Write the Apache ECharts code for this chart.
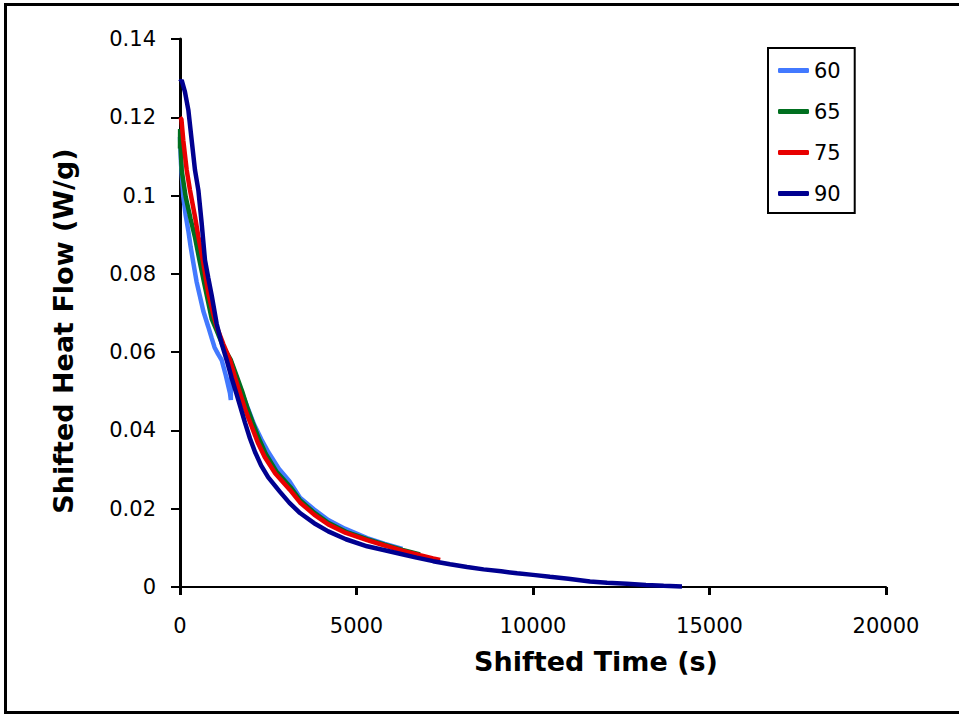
<!DOCTYPE html>
<html>
<head>
<meta charset="utf-8">
<script src="https://cdn.jsdelivr.net/npm/echarts@6/dist/echarts.min.js"></script>
<style>
  html, body { margin: 0; padding: 0; background: #fff; }
  #chart { width: 959px; height: 717px; }
</style>
</head>
<body>
<div id="chart"></div>
<script>
// ---- data ----
const seriesNames = ['60', '65', '75', '90'];

const t60 = [0, 30, 94, 160, 236, 300, 378, 470, 566, 660, 800, 900, 980, 1080, 1180, 1300, 1416, 1440, 1450, 1600, 1780, 1950, 2100, 2300, 2500, 2800, 3100, 3400, 3800, 4200, 4670, 5300, 5800, 6300];
const v60 = [0.115, 0.108, 0.0997, 0.095, 0.091, 0.087, 0.0828, 0.078, 0.0742, 0.0705, 0.0665, 0.0635, 0.0612, 0.0595, 0.058, 0.054, 0.0495, 0.0478, 0.0575, 0.0535, 0.049, 0.045, 0.0415, 0.0378, 0.0345, 0.0302, 0.027, 0.0228, 0.0198, 0.0171, 0.0149, 0.0125, 0.011, 0.0097];

const t65 = [0, 4, 12, 47, 160, 300, 420, 566, 700, 898, 1040, 1230, 1440, 1600, 1760, 1900, 2060, 2230, 2430, 2730, 3150, 3400, 3800, 4200, 4700, 5300, 5800, 6300, 6800];
const v65 = [0.112, 0.117, 0.1135, 0.1065, 0.0997, 0.094, 0.0895, 0.0828, 0.077, 0.0685, 0.0655, 0.0613, 0.058, 0.054, 0.05, 0.046, 0.042, 0.038, 0.034, 0.0295, 0.0253, 0.0222, 0.019, 0.0164, 0.0141, 0.0122, 0.0108, 0.0095, 0.0083];

const t75 = [0, 40, 94, 190, 283, 425, 520, 660, 803, 920, 1040, 1230, 1416, 1560, 1700, 1860, 2030, 2200, 2400, 2700, 3116, 3400, 3800, 4200, 4700, 5300, 5800, 6300, 6800, 7170, 7370];
const v75 = [0.120, 0.1195, 0.114, 0.1065, 0.1014, 0.0946, 0.0895, 0.0828, 0.075, 0.0705, 0.0665, 0.062, 0.058, 0.0535, 0.0495, 0.045, 0.041, 0.037, 0.0332, 0.029, 0.0248, 0.0216, 0.0185, 0.016, 0.0138, 0.012, 0.0106, 0.0093, 0.0081, 0.0073, 0.0069];

const t90 = [0, 47, 140, 236, 330, 425, 520, 613, 708, 800, 898, 1040, 1180, 1322, 1460, 1605, 1720, 1841, 1980, 2125, 2300, 2500, 2833, 3100, 3400, 3800, 4200, 4700, 5300, 5800, 6230, 6700, 7170, 7650, 8130, 8600, 9100, 9550, 10000, 10480, 11000, 11615, 12100, 12660, 13200, 13700, 14220];
const v90 = [0.129, 0.1295, 0.1265, 0.1219, 0.1142, 0.1065, 0.1014, 0.093, 0.0835, 0.079, 0.0745, 0.0672, 0.0622, 0.058, 0.0535, 0.0492, 0.0457, 0.042, 0.038, 0.0345, 0.031, 0.028, 0.0243, 0.0215, 0.0189, 0.0163, 0.0142, 0.0122, 0.0104, 0.0094, 0.0085, 0.0075, 0.0066, 0.0058, 0.0051, 0.0045, 0.0040, 0.0035, 0.0031, 0.0026, 0.0021, 0.0014, 0.0011, 0.0008, 0.0005, 0.0003, 0.0001];

const colors = ['#4279FF', '#006F1F', '#E80000', '#000090'];
const xTitle = 'Shifted Time (s)';
const yTitle = 'Shifted Heat Flow (W/g)';

function pairs(t, v) { return t.map((x, i) => [x, v[i]]); }
const allData = [pairs(t60, v60), pairs(t65, v65), pairs(t75, v75), pairs(t90, v90)];

const chart = echarts.init(document.getElementById('chart'), null, { renderer: 'svg' });
const font = 'DejaVu Sans';

chart.setOption({
  animation: false,
  backgroundColor: '#fff',
  graphic: [{
    type: 'rect',
    shape: { x: 5.5, y: 4.5, width: 1000, height: 708 },
    style: { fill: 'none', stroke: '#000', lineWidth: 3 },
    silent: true
  }],
  grid: { left: 180, top: 39, width: 706, height: 548, containLabel: false },
  legend: {
    orient: 'vertical',
    left: 768, top: 48,
    padding: [12, 14, 9, 10],
    icon: 'roundRect',
    itemWidth: 31, itemHeight: 5, itemGap: 20,
    borderColor: '#000', borderWidth: 2, borderRadius: 0,
    backgroundColor: '#fff',
    textStyle: { fontFamily: font, fontSize: 21, color: '#000', lineHeight: 20 },
    data: seriesNames
  },
  xAxis: {
    type: 'value', min: 0, max: 20000, interval: 5000,
    name: xTitle, nameLocation: 'middle', nameGap: 61,
    nameTextStyle: { fontFamily: font, fontWeight: 'bold', fontSize: 27, color: '#000', padding: [0, 0, 0, 126] },
    axisLine: { lineStyle: { color: '#000', width: 2 } },
    axisTick: { show: true, inside: false, length: 8, lineStyle: { color: '#000', width: 3 } },
    axisLabel: { fontFamily: font, fontSize: 21, color: '#000', margin: 28, formatter: v => String(v) },
    splitLine: { show: false }
  },
  yAxis: {
    type: 'value', min: 0, max: 0.14, interval: 0.02,
    name: yTitle, nameLocation: 'middle', nameGap: 103, nameRotate: 90,
    nameTextStyle: { fontFamily: font, fontWeight: 'bold', fontSize: 27, color: '#000', padding: [0, 36, 0, 0] },
    axisLine: { lineStyle: { color: '#000', width: 3 } },
    axisTick: { show: true, inside: false, length: 9, lineStyle: { color: '#000', width: 2 } },
    axisLabel: { fontFamily: font, fontSize: 21, color: '#000', margin: 24 },
    splitLine: { show: false }
  },
  series: seriesNames.map((n, i) => ({
    name: n,
    type: 'line',
    data: allData[i],
    symbol: 'none',
    showSymbol: false,
    color: colors[i],
    lineStyle: { color: colors[i], width: 4.5 },
    z: 2 + i
  }))
});
</script>
</body>
</html>
